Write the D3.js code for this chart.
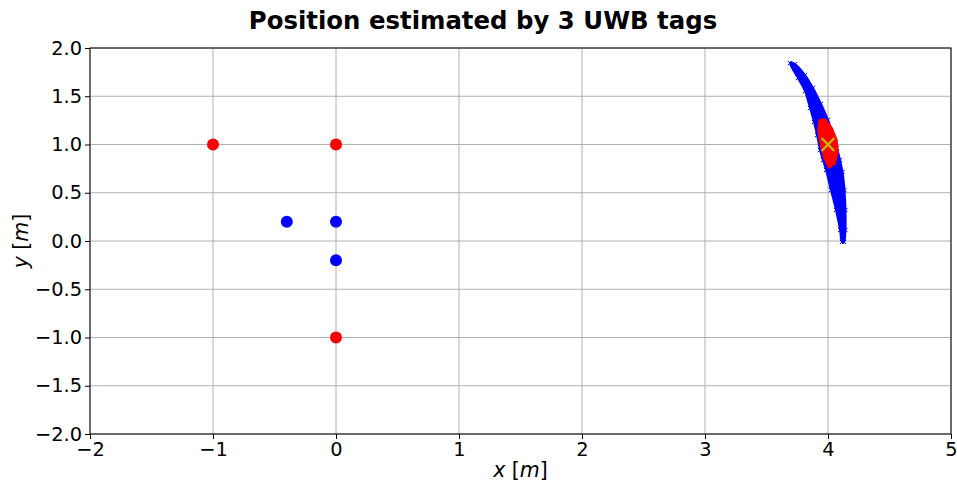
<!DOCTYPE html>
<html>
<head>
<meta charset="utf-8">
<script src="https://cdn.jsdelivr.net/npm/d3@7"></script>
<style>
  html, body { margin: 0; padding: 0; background: #fff; }
  svg text { font-family: "DejaVu Sans", sans-serif; }
</style>
</head>
<body>
<svg id="chart" width="957" height="486"></svg>
<script>
// Anchor positions (red) and tag positions (blue)
const anchorX = [-1, 0, 0];
const anchorY = [1, 1, -1];
const tagX = [-0.4, 0, 0];
const tagY = [0.2, 0.2, -0.2];

// Outline of the cloud of candidate positions (blue), left and right edges, top to bottom
const cloudLeftX  = [3.691, 3.756, 3.813, 3.854, 3.886, 3.911, 3.935, 3.959, 3.984, 4.024, 4.065, 4.098, 4.114];
const cloudLeftY  = [1.845, 1.689, 1.554, 1.378, 1.233, 1.098, 0.943, 0.839, 0.736, 0.528, 0.321, 0.114, -0.010];
const cloudRightX = [3.732, 3.813, 3.878, 3.943, 4.000, 4.041, 4.073, 4.098, 4.118, 4.134, 4.142, 4.142, 4.130];
const cloudRightY = [1.834, 1.720, 1.585, 1.420, 1.254, 1.098, 0.964, 0.839, 0.715, 0.528, 0.321, 0.114, -0.010];

// Outline of the consistent-estimate region (red)
const bestX = [3.927, 3.976, 4.033, 4.073, 4.081, 4.057, 4.008, 3.967, 3.935, 3.919];
const bestY = [1.254, 1.264, 1.171, 1.047, 0.922, 0.798, 0.756, 0.860, 1.016, 1.150];

// Final estimate
const estimateX = [4.0];
const estimateY = [1.0];

const xTicks = [-2, -1, 0, 1, 2, 3, 4, 5];
const yTicks = [-2, -1.5, -1, -0.5, 0, 0.5, 1, 1.5, 2];

const margin = { left: 90, right: 6, top: 48, bottom: 52 };
const W = 957, H = 486;
const svg = d3.select("#chart");

const x = d3.scaleLinear().domain([-2, 5]).range([margin.left, W - margin.right]);
const y = d3.scaleLinear().domain([-2, 2]).range([H - margin.bottom, margin.top]);

// grid
const grid = svg.append("g");
grid.selectAll("line.gx").data(xTicks).join("line")
  .attr("x1", d => x(d)).attr("x2", d => x(d))
  .attr("y1", y(-2)).attr("y2", y(2))
  .attr("stroke", "#b0b0b0").attr("stroke-width", 1);
grid.selectAll("line.gy").data(yTicks).join("line")
  .attr("y1", d => y(d)).attr("y2", d => y(d))
  .attr("x1", x(-2)).attr("x2", x(5))
  .attr("stroke", "#b0b0b0").attr("stroke-width", 1);

const fmtMinus = s => s.replace("-", "\u2212");

// axes
const xAxis = d3.axisBottom(x).tickValues(xTicks).tickSize(5).tickPadding(3)
  .tickFormat(d => fmtMinus(d3.format("d")(d)));
const yAxis = d3.axisLeft(y).tickValues(yTicks).tickSize(5).tickPadding(3)
  .tickFormat(d => fmtMinus(d3.format(".1f")(d)));

const gx = svg.append("g").attr("transform", `translate(0,${y(-2)})`).call(xAxis);
const gy = svg.append("g").attr("transform", `translate(${x(-2)},0)`).call(yAxis);
[gx, gy].forEach(g => {
  g.select(".domain").remove();
  g.selectAll("text").attr("font-size", 19.4).attr("fill", "#000")
    .style("font-family", "DejaVu Sans, sans-serif");
  g.selectAll("line").attr("stroke", "#000");
});

// cloud of candidate positions
const cloudPts = cloudLeftX.map((d, i) => [d, cloudLeftY[i]])
  .concat(cloudRightX.map((d, i) => [d, cloudRightY[i]]).reverse());
const smooth = d3.line().x(d => x(d[0])).y(d => y(d[1])).curve(d3.curveCatmullRomClosed.alpha(0.5));
const straight = d3.line().x(d => x(d[0])).y(d => y(d[1])).curve(d3.curveLinearClosed);
svg.append("path").attr("d", smooth(cloudPts))
  .attr("fill", "#0000ff").attr("stroke", "#0000ff").attr("stroke-width", 2);

// x markers along the cloud boundary
const cross = d3.symbol().type(d3.symbolX).size(14);
svg.append("g").selectAll("path").data(cloudPts).join("path")
  .attr("d", cross).attr("transform", d => `translate(${x(d[0])},${y(d[1])})`)
  .attr("stroke", "#0000ff").attr("stroke-width", 1).attr("fill", "none");

// consistent-estimate region
const bestPts = bestX.map((d, i) => [d, bestY[i]]);
svg.append("path").attr("d", straight(bestPts))
  .attr("fill", "#ff0000").attr("stroke", "#ff0000").attr("stroke-width", 1.5)
  .attr("stroke-linejoin", "round");

// anchors and tags
svg.append("g").selectAll("circle").data(anchorX.map((d, i) => [d, anchorY[i]])).join("circle")
  .attr("cx", d => x(d[0])).attr("cy", d => y(d[1])).attr("r", 6).attr("fill", "#ff0000");
svg.append("g").selectAll("circle").data(tagX.map((d, i) => [d, tagY[i]])).join("circle")
  .attr("cx", d => x(d[0])).attr("cy", d => y(d[1])).attr("r", 6).attr("fill", "#0000ff");

// final estimate
const bigX = d3.symbol().type(d3.symbolX).size(110);
svg.append("g").selectAll("path").data(estimateX.map((d, i) => [d, estimateY[i]])).join("path")
  .attr("d", bigX).attr("transform", d => `translate(${x(d[0])},${y(d[1])})`)
  .attr("stroke", "#bfbf00").attr("stroke-width", 2.2).attr("fill", "none");

// frame
svg.append("rect").attr("x", x(-2)).attr("y", y(2))
  .attr("width", x(5) - x(-2)).attr("height", y(-2) - y(2))
  .attr("fill", "none").attr("stroke", "#000").attr("stroke-width", 1);

// title and axis labels
svg.append("text").attr("x", 483).attr("y", 29).attr("text-anchor", "middle")
  .attr("font-size", 24.4).attr("font-weight", "bold").text("Position estimated by 3 UWB tags");

const xl = svg.append("text").attr("x", (x(-2) + x(5)) / 2).attr("y", 477)
  .attr("text-anchor", "middle").attr("font-size", 20.5);
xl.append("tspan").attr("font-style", "italic").text("x");
xl.append("tspan").text(" [");
xl.append("tspan").attr("font-style", "italic").text("m");
xl.append("tspan").text("]");

const yl = svg.append("text").attr("transform", `translate(28,${(y(-2) + y(2)) / 2}) rotate(-90)`)
  .attr("text-anchor", "middle").attr("font-size", 20.5);
yl.append("tspan").attr("font-style", "italic").text("y");
yl.append("tspan").text(" [");
yl.append("tspan").attr("font-style", "italic").text("m");
yl.append("tspan").text("]");
</script>
</body>
</html>
